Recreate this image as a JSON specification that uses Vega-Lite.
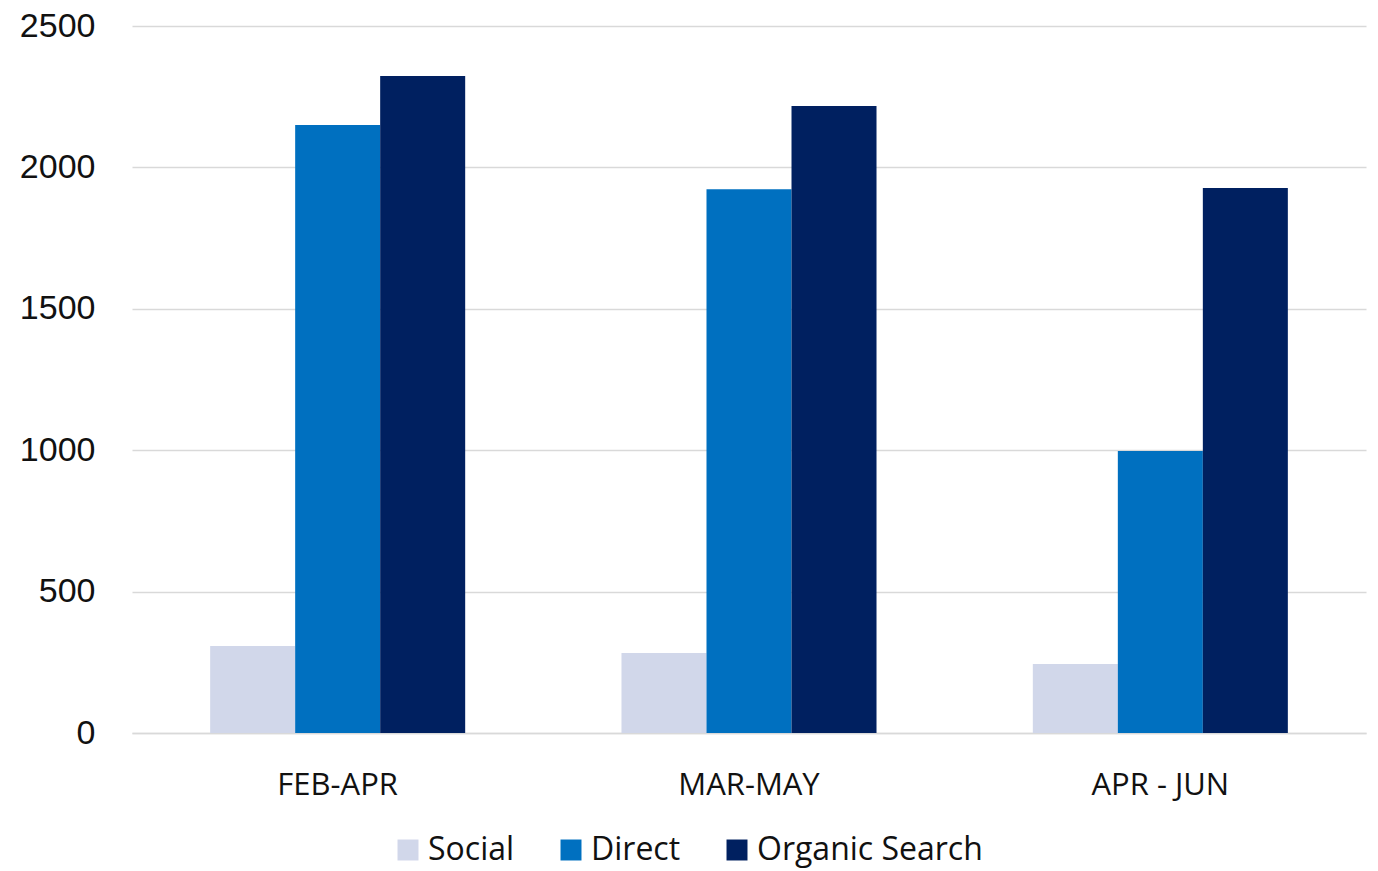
{
  "$schema": "https://vega.github.io/schema/vega-lite/v6.json",
  "autosize": "none",
  "padding": {"left": 132, "top": 26, "right": 12, "bottom": 138},
  "width": 1234,
  "height": 707,
  "background": "white",
  "config": {"view": {"stroke": null}, "font": "Open Sans"},
  "data": {"values": [
    {"period": "FEB-APR", "source": "Social", "value": 308},
    {"period": "FEB-APR", "source": "Direct", "value": 2150},
    {"period": "FEB-APR", "source": "Organic Search", "value": 2323},
    {"period": "MAR-MAY", "source": "Social", "value": 283},
    {"period": "MAR-MAY", "source": "Direct", "value": 1923},
    {"period": "MAR-MAY", "source": "Organic Search", "value": 2217},
    {"period": "APR - JUN", "source": "Social", "value": 244},
    {"period": "APR - JUN", "source": "Direct", "value": 997},
    {"period": "APR - JUN", "source": "Organic Search", "value": 1927}
  ]},
  "mark": {"type": "bar"},
  "encoding": {
    "x": {"field": "period", "type": "nominal", "sort": ["FEB-APR", "MAR-MAY", "APR - JUN"],
      "scale": {"paddingInner": 0.38, "paddingOuter": 0.19},
      "axis": {"title": null, "labelAngle": 0, "labelFontSize": 31, "labelColor": "#111111", "labelFont": "Open Sans",
        "ticks": false, "labelPadding": 37, "domainColor": "#D9D9D9", "domainWidth": 1.5}},
    "xOffset": {"field": "source", "type": "nominal", "sort": ["Social", "Direct", "Organic Search"],
      "scale": {"paddingInner": 0, "paddingOuter": 0}},
    "y": {"field": "value", "type": "quantitative",
      "scale": {"domain": [0, 2500]},
      "axis": {"title": null, "values": [0, 500, 1000, 1500, 2000, 2500], "format": "d", "labelOverlap": false, "domain": false, "ticks": false,
        "labelFontSize": 34, "labelColor": "#111111", "labelPadding": 37, "labelFont": "Liberation Sans",
        "gridColor": "#D9D9D9", "gridWidth": 1.5}},
    "color": {"field": "source", "type": "nominal", "sort": ["Social", "Direct", "Organic Search"],
      "scale": {"domain": ["Social", "Direct", "Organic Search"], "range": ["#D1D7EA", "#0070C0", "#002060"]},
      "legend": {"title": null, "orient": "none", "legendX": 260, "legendY": 808, "direction": "horizontal", "symbolType": "square", "symbolSize": 440,
        "symbolStrokeWidth": 0, "labelFontSize": 32, "labelColor": "#111111", "labelFont": "Open Sans", "labelLimit": 0, "labelOffset": 4, "columnPadding": 40, "symbolOffset": 0}}
  }
}
